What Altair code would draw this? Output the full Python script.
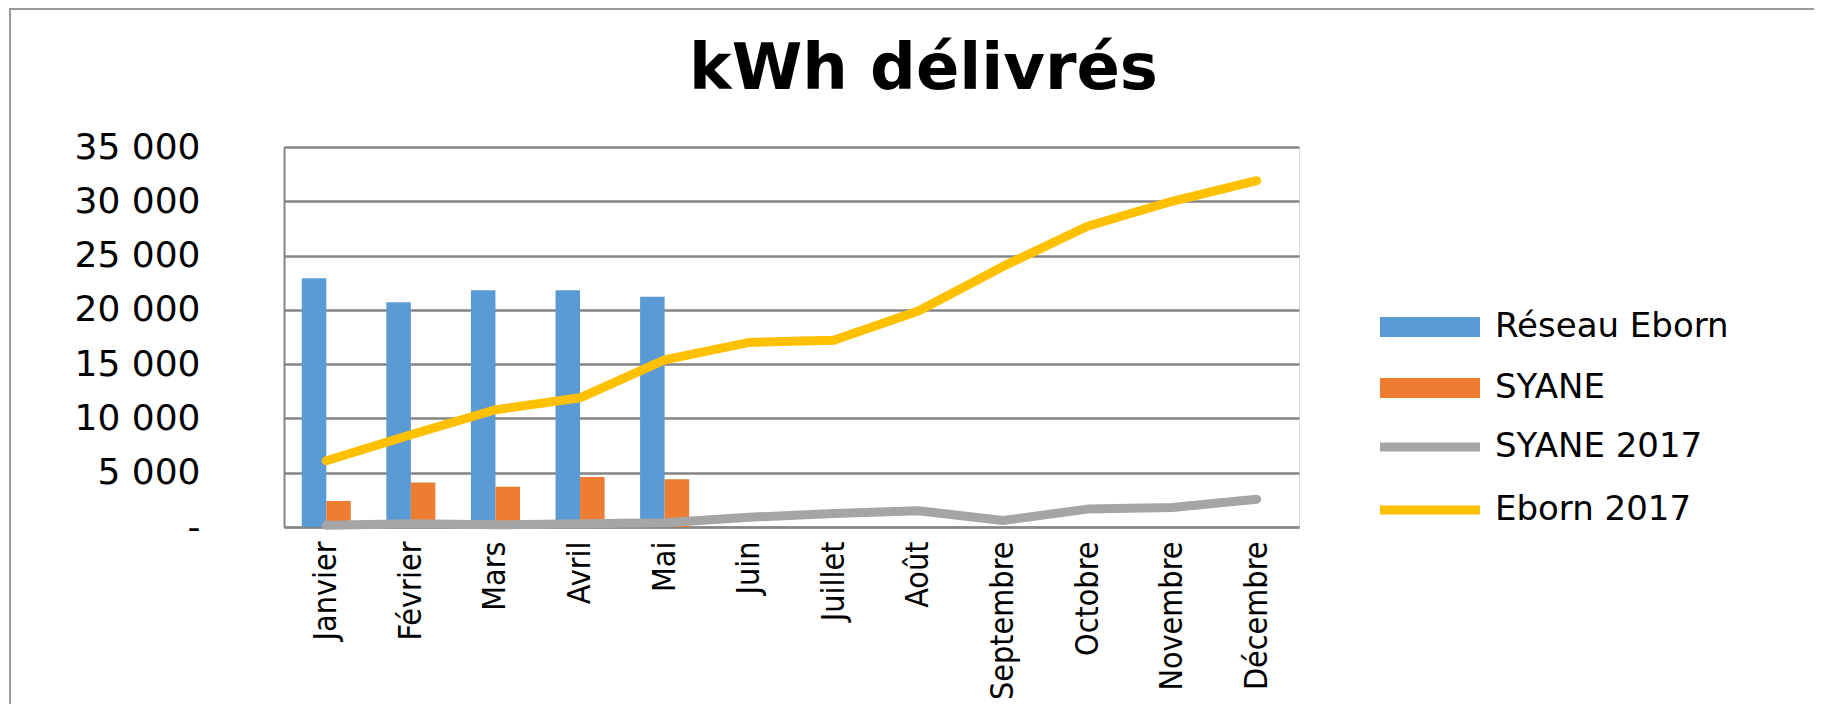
import altair as alt
import pandas as pd

months = ["Janvier", "Février", "Mars", "Avril", "Mai", "Juin", "Juillet",
          "Août", "Septembre", "Octobre", "Novembre", "Décembre"]
bar_series = ["Réseau Eborn", "SYANE"]
line_series = ["SYANE 2017", "Eborn 2017"]

reseau_eborn = [22900, 20700, 21800, 21800, 21200]
syane = [2400, 4100, 3700, 4600, 4400]
syane_2017 = [150, 300, 200, 300, 400, 900, 1250, 1500, 600, 1650, 1800, 2550]
eborn_2017 = [6100, 8500, 10800, 11900, 15400, 17000, 17200, 19900, 24000, 27700, 30000, 31900]
y_ticks = [0, 5000, 10000, 15000, 20000, 25000, 30000, 35000]

bars_rows = []
for m, v in zip(months, reseau_eborn):
    bars_rows.append({"mois": m, "serie": "Réseau Eborn", "valeur": v})
for m, v in zip(months, syane):
    bars_rows.append({"mois": m, "serie": "SYANE", "valeur": v})
bars_df = pd.DataFrame(bars_rows)

line_rows = []
for m, v in zip(months, syane_2017):
    line_rows.append({"mois": m, "serie": "SYANE 2017", "valeur": v})
for m, v in zip(months, eborn_2017):
    line_rows.append({"mois": m, "serie": "Eborn 2017", "valeur": v})
lines_df = pd.DataFrame(line_rows)

GRID = "#858585"
XFONT = "'DejaVu Sans Condensed', 'Liberation Sans', sans-serif"

x_enc = alt.X(
    "mois:N", sort=months,
    scale=alt.Scale(paddingInner=0.42, paddingOuter=0.21),
    axis=alt.Axis(title=None, labelAngle=270, labelAlign="right", labelBaseline="middle",
                  labelPadding=14, labelFont=XFONT, labelFontSize=32,
                  labelColor="black", ticks=False, tickSize=0, domainColor=GRID,
                  domainWidth=2, grid=False, labelLimit=400, labelOverlap=False),
)
y_enc = alt.Y(
    "valeur:Q",
    scale=alt.Scale(domain=[0, 35000], nice=False),
    axis=alt.Axis(title=None, values=y_ticks,
                  labelExpr="datum.value == 0 ? '-\u00a0\u00a0' : replace(format(datum.value, ','), ',', ' ')",
                  labelFont="DejaVu Sans", labelFontSize=36, labelColor="black",
                  labelAlign="right", labelBaseline="middle", labelPadding=84,
                  ticks=False, tickSize=0, domainColor=GRID, domainWidth=2,
                  grid=True, gridColor=GRID, gridWidth=2.5, labelLimit=400),
)

frame = alt.Chart(pd.DataFrame({"k": [0]})).mark_rect(
    fill=None, stroke="#9a9a9a", strokeWidth=2
).encode(
    x=alt.value(-274), x2=alt.value(1700), y=alt.value(-138), y2=alt.value(1000)
)

bars = alt.Chart(bars_df).mark_bar().encode(
    x=x_enc,
    y=y_enc,
    xOffset=alt.XOffset("serie:N", sort=bar_series,
                        scale=alt.Scale(paddingInner=0, paddingOuter=0)),
    color=alt.Color("serie:N",
                    scale=alt.Scale(domain=bar_series, range=["#5b9bd5", "#ed7d31"]),
                    legend=alt.Legend(orient="none", legendX=1129, legendY=163, title=None,
                                      symbolType="M-5,-1H5V1H-5Z", symbolSize=400,
                                      symbolStrokeWidth=0, symbolOpacity=1,
                                      labelFont="DejaVu Sans", labelFontSize=34,
                                      labelColor="black", labelOffset=48, rowPadding=27,
                                      padding=0, labelLimit=500)),
)

lines = alt.Chart(lines_df).mark_line(
    strokeWidth=9, strokeCap="round", strokeJoin="round"
).encode(
    x=x_enc,
    y=y_enc,
    stroke=alt.Stroke("serie:N",
                      scale=alt.Scale(domain=line_series, range=["#a5a5a5", "#ffc000"]),
                      legend=alt.Legend(orient="none", legendX=1129, legendY=283, title=None,
                                        symbolType="M-5,0H5", symbolSize=400,
                                        symbolStrokeWidth=9, symbolOpacity=1,
                                        labelFont="DejaVu Sans", labelFontSize=34,
                                        labelColor="black", labelOffset=48, rowPadding=27,
                                        padding=0, labelLimit=500)),
)

chart = alt.layer(frame, bars, lines).resolve_scale(
    color="independent", stroke="independent"
).properties(
    width=1015, height=380,
    autosize=alt.AutoSizeParams(type="none"),
    padding={"left": 276, "top": 139, "right": 515, "bottom": 177},
    title=alt.TitleParams("kWh délivrés", font="DejaVu Sans", fontSize=64,
                          fontWeight="bold", color="black", anchor="middle",
                          frame="group", baseline="alphabetic", offset=-145, dx=132),
).configure_view(stroke=None).configure(background="white")

chart.save("out.html", embed_options={"renderer": "svg", "actions": False})
